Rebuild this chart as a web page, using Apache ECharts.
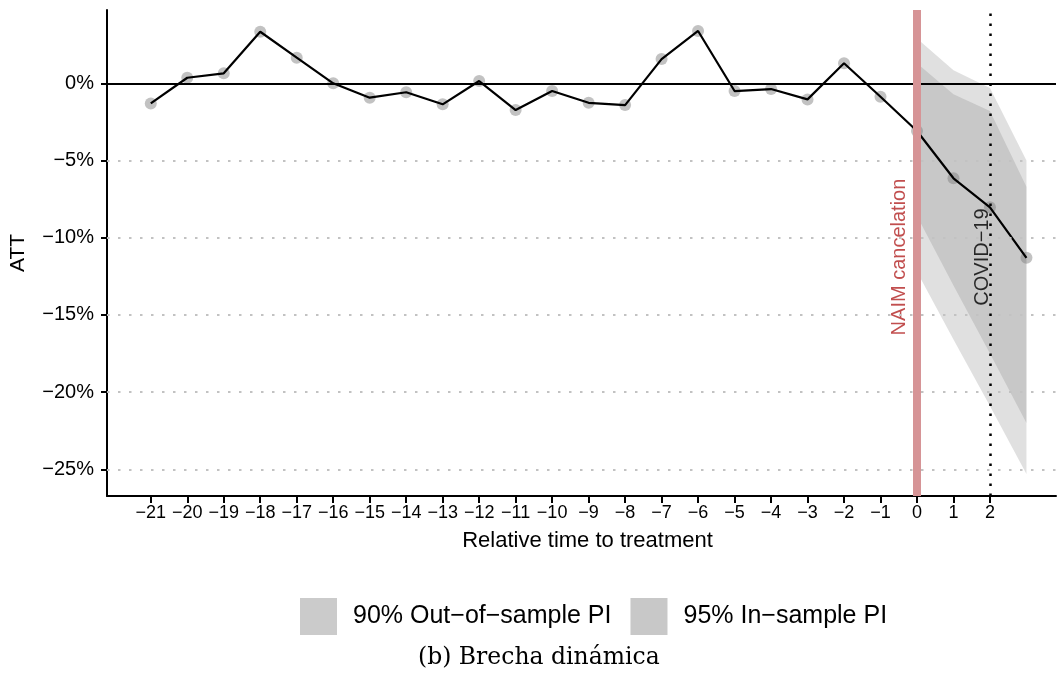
<!DOCTYPE html>
<html>
<head>
<meta charset="utf-8">
<script src="https://cdn.jsdelivr.net/npm/echarts@6/dist/echarts.min.js"></script>
<style>
  html, body { margin: 0; padding: 0; background: #fff; }
  #main { width: 1060px; height: 678px; }
</style>
</head>
<body>
<div id="main"></div>
<script>
// datos del gráfico
var relTime = [-21, -20, -19, -18, -17, -16, -15, -14, -13, -12, -11, -10, -9, -8, -7, -6, -5, -4, -3, -2, -1, 0, 1, 2, 3];
var att = [-1.30, 0.36, 0.65, 3.34, 1.66, 0.00, -0.93, -0.58, -1.36, 0.15, -1.73, -0.50, -1.26, -1.41, 1.57, 3.39, -0.50, -0.37, -1.04, 1.30, -0.87, -3.09, -6.15, -8.03, -11.30];

// bandas de predicción (t = 0..3)
var bandTime = [0, 1, 2, 3];
var out90Upper = [2.9, 0.85, -0.3, -5.0];
var out90Lower = [-12.2, -16.6, -20.9, -25.3];
var in95Upper = [1.3, -0.7, -1.8, -6.7];
var in95Lower = [-8.6, -13.1, -17.5, -22.0];

// marcas de los ejes
var xTicks = [-21, -20, -19, -18, -17, -16, -15, -14, -13, -12, -11, -10, -9, -8, -7, -6, -5, -4, -3, -2, -1, 0, 1, 2];
var yTicks = [0, -5, -10, -15, -20, -25];
var gridLines = [-5, -10, -15, -20, -25];

var names = ['90% Out\u2212of\u2212sample PI', '95% In\u2212sample PI'];

function minus(v) {
    return v < 0 ? '\u2212' + (-v) : String(v);
}

// poligono de una banda con las escalas del grafico
function bandRender(upper, lower) {
    return function (params, api) {
        var pts = [];
        bandTime.forEach(function (t, i) {
            pts.push(api.coord([t, upper[i]]));
        });
        for (var i = bandTime.length - 1; i >= 0; i--) {
            pts.push(api.coord([bandTime[i], lower[i]]));
        }
        return {
            type: 'polygon',
            shape: { points: pts },
            style: { fill: 'rgba(120,120,120,0.23)' }
        };
    };
}

var points = relTime.map(function (t, i) { return [t, att[i]]; });

var myChart = echarts.init(document.getElementById('main'));

var option = {
    animation: false,
    textStyle: { fontFamily: 'Liberation Sans, Arial, sans-serif' },
    grid: { left: 106, right: 4, top: 10, bottom: 182 },
    xAxis: {
        type: 'value',
        min: -22.2,
        max: 3.81,
        name: 'Relative time to treatment',
        nameLocation: 'middle',
        nameGap: 34,
        nameTextStyle: { fontSize: 22, color: '#000', padding: [0, 0, 0, 12] },
        axisLine: { onZero: false, lineStyle: { color: '#000', width: 2 } },
        axisTick: { customValues: xTicks, length: 7, lineStyle: { color: '#000', width: 2 } },
        axisLabel: { customValues: xTicks, formatter: minus, fontSize: 18, color: '#000', margin: 8 },
        splitLine: { show: false }
    },
    yAxis: {
        type: 'value',
        min: -26.73,
        max: 4.75,
        name: 'ATT',
        nameLocation: 'middle',
        nameRotate: 90,
        nameGap: 78,
        nameTextStyle: { fontSize: 21, color: '#000' },
        axisLine: { onZero: false, lineStyle: { color: '#000', width: 2 } },
        axisTick: { customValues: yTicks, length: 6, lineStyle: { color: '#000', width: 2 } },
        axisLabel: {
            customValues: yTicks,
            formatter: function (v) { return minus(v) + '%'; },
            fontSize: 20, color: '#000', margin: 13
        },
        splitLine: { show: false }
    },
    legend: {
        data: [
            { name: names[0], icon: 'rect', itemStyle: { color: '#cbcbcb' } },
            { name: names[1], icon: 'rect', itemStyle: { color: '#c8c8c8' } }
        ],
        left: 300,
        top: 598,
        padding: 0,
        itemWidth: 37,
        itemHeight: 37,
        itemGap: 19,
        selectedMode: false,
        textStyle: { fontSize: 25, color: '#000', padding: [0, 0, 0, 11] }
    },
    graphic: [{
        type: 'text',
        left: 418,
        top: 646,
        style: {
            text: '(b) Brecha din\u00e1mica',
            font: '23.5px "DejaVu Serif", "Liberation Serif", serif',
            fill: '#000'
        }
    }],
    series: [
        // lineas de la cuadricula (punteadas)
        {
            type: 'line',
            data: [],
            silent: true,
            markLine: {
                symbol: 'none',
                silent: true,
                label: { show: false },
                lineStyle: { color: '#c2c2c2', width: 2, type: [2.5, 8.5] },
                data: gridLines.map(function (v) { return { yAxis: v }; })
            }
        },
        {
            name: names[0],
            type: 'custom',
            data: [[0, 0]],
            itemStyle: { color: '#cbcbcb' },
            renderItem: bandRender(out90Upper, out90Lower),
            silent: true
        },
        {
            name: names[1],
            type: 'custom',
            data: [[0, 0]],
            itemStyle: { color: '#c8c8c8' },
            renderItem: bandRender(in95Upper, in95Lower),
            silent: true
        },
        // linea cero, tratamiento y covid
        {
            type: 'line',
            data: [],
            silent: true,
            markLine: {
                symbol: 'none',
                silent: true,
                label: { show: false },
                data: [
                    { yAxis: 0, lineStyle: { color: '#000', width: 2, type: 'solid' } },
                    { xAxis: 0, lineStyle: { color: '#d69496', width: 8, type: 'solid' } },
                    { xAxis: 2, lineStyle: { color: '#000', width: 2.5, type: [2.5, 7.5] } }
                ]
            }
        },
        {
            type: 'scatter',
            data: points,
            symbolSize: 12,
            itemStyle: { color: 'rgba(128,128,128,0.6)' },
            silent: true
        },
        {
            type: 'line',
            data: points,
            showSymbol: false,
            lineStyle: { color: '#000', width: 2.2 },
            silent: true
        },
        // textos de las anotaciones
        {
            type: 'scatter',
            symbolSize: 0,
            silent: true,
            data: [
                { value: [-0.47, -11.25], label: { formatter: 'NAIM cancelation', color: '#b22222' } },
                { value: [1.8, -11.25], label: { formatter: 'COVID\u221219', color: '#000' } }
            ],
            label: { show: true, position: 'inside', rotate: 90, fontSize: 20 }
        }
    ]
};

myChart.setOption(option);
</script>
</body>
</html>
